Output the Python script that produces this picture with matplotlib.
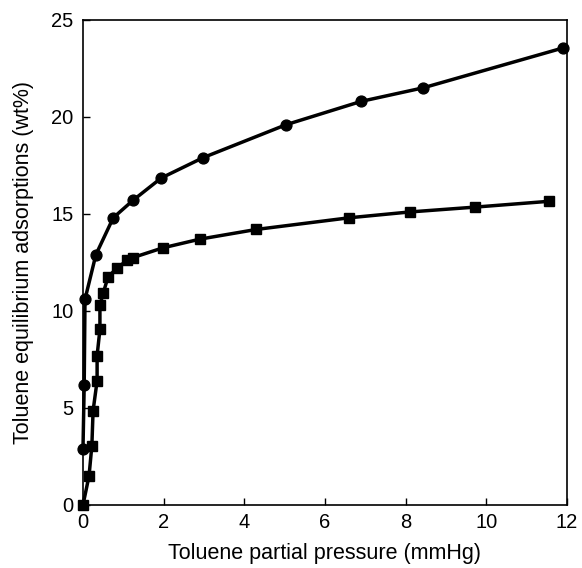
import matplotlib
matplotlib.use("Agg")
import matplotlib.pyplot as plt

# Circle series (upper curve)
circle_pressure = [0.0, 0.03, 0.05, 0.32, 0.75, 1.24, 1.94, 2.98, 5.04, 6.9, 8.44, 11.9]
circle_uptake = [2.9, 6.2, 10.6, 12.9, 14.8, 15.7, 16.85, 17.9, 19.6, 20.8, 21.5, 23.55]

# Square series (lower curve)
square_pressure = [0.0, 0.15, 0.22, 0.25, 0.35, 0.35, 0.42, 0.42, 0.5, 0.62, 0.84,
                   1.09, 1.24, 1.98, 2.9, 4.3, 6.6, 8.1, 9.72, 11.56]
square_uptake = [0.0, 1.5, 3.05, 4.85, 6.4, 7.7, 9.05, 10.3, 10.9, 11.75, 12.2,
                 12.6, 12.75, 13.25, 13.7, 14.2, 14.8, 15.1, 15.35, 15.65]

x_ticks = [0, 2, 4, 6, 8, 10, 12]
y_ticks = [0, 5, 10, 15, 20, 25]

plt.rcParams["font.family"] = ["Liberation Sans", "DejaVu Sans"]

fig = plt.figure(figsize=(5.82, 5.68), dpi=100)
ax = fig.add_axes([0.1426, 0.111, 0.8314, 0.854])

ax.plot(circle_pressure, circle_uptake, color="black", linewidth=2.5,
        marker="o", markersize=7.8, clip_on=False)
ax.plot(square_pressure, square_uptake, color="black", linewidth=2.5,
        marker="s", markersize=7.8, clip_on=False)

ax.set_xlim(0, 12)
ax.set_ylim(0, 25)
ax.set_xticks(x_ticks)
ax.set_yticks(y_ticks)
ax.tick_params(direction="in", labelsize=14.5, length=5, width=1)
ax.tick_params(axis="y", pad=7)
ax.tick_params(axis="x", pad=6)
for spine in ax.spines.values():
    spine.set_linewidth(1.2)

ax.set_xlabel("Toluene partial pressure (mmHg)", fontsize=15.5, labelpad=8)
ax.set_ylabel("Toluene equilibrium adsorptions (wt%)", fontsize=15.5, labelpad=12)

fig.savefig("out.png", dpi=100)
